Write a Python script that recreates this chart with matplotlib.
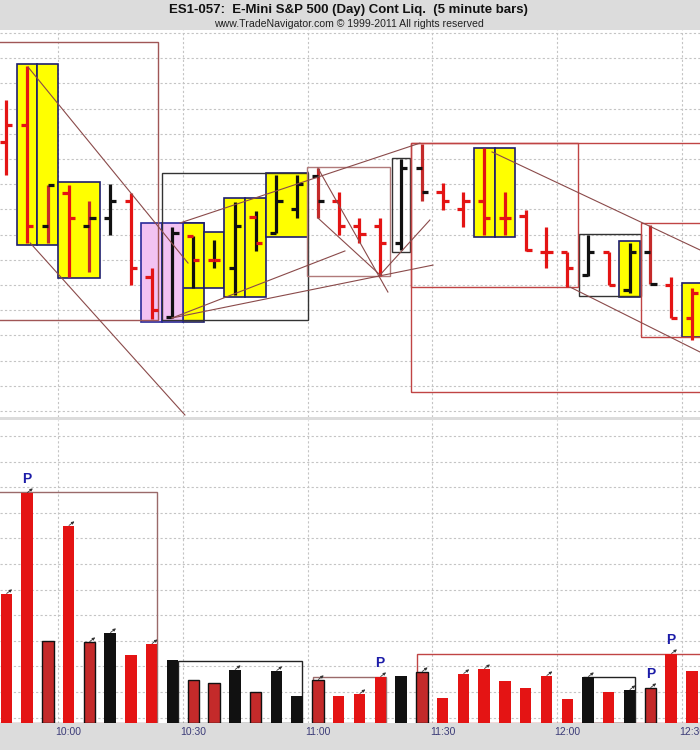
import pandas as pd
import matplotlib
matplotlib.use('Agg')
import matplotlib.pyplot as plt
from matplotlib.patches import Rectangle

plt.rcParams['font.family'] = ['Liberation Sans', 'DejaVu Sans']

# 5 minute bars, first visible bar 9:45
times = pd.date_range('2011-06-01 09:45', periods=34, freq='5min')

high = [1302.34, 1303.69, 1298.97, 1298.97, 1298.33, 1299.01, 1298.65, 1295.67, 1297.30, 1296.94,
        1296.79, 1298.29, 1297.94, 1299.37, 1299.37, 1299.64, 1298.69, 1297.66, 1297.66, 1300.00,
        1300.60, 1299.05, 1298.69, 1300.44, 1298.69, 1297.98, 1297.30, 1296.31, 1296.98, 1296.31,
        1296.67, 1297.38, 1295.32, 1294.88]
low = [1299.37, 1296.67, 1296.67, 1295.32, 1295.52, 1296.98, 1295.00, 1293.65, 1293.69, 1294.88,
       1295.67, 1294.60, 1296.35, 1297.06, 1297.66, 1297.66, 1296.98, 1296.67, 1295.36, 1296.39,
       1298.33, 1297.98, 1297.30, 1296.98, 1296.98, 1296.35, 1295.67, 1294.92, 1295.36, 1295.00,
       1294.68, 1295.04, 1293.69, 1292.82]
opens = [1300.67, 1301.35, 1297.34, 1298.65, 1297.34, 1297.66, 1298.33, 1295.32, 1293.73, 1296.94,
         1295.99, 1295.67, 1297.70, 1297.06, 1298.02, 1299.33, 1298.33, 1297.34, 1297.34, 1296.67,
         1299.64, 1298.69, 1298.02, 1298.33, 1297.66, 1297.74, 1296.31, 1296.31, 1295.40, 1296.31,
         1294.80, 1296.31, 1295.00, 1293.69]
close = [1301.35, 1297.34, 1298.97, 1297.66, 1297.66, 1298.33, 1295.67, 1294.01, 1297.06, 1295.99,
         1295.99, 1297.34, 1296.67, 1298.33, 1299.01, 1298.33, 1297.34, 1297.02, 1296.67, 1299.64,
         1298.69, 1298.33, 1298.33, 1297.66, 1297.66, 1296.39, 1296.31, 1295.67, 1296.31, 1295.00,
         1296.31, 1295.04, 1293.69, 1294.68]
# R red, K black, RK red bar black ticks, KR black bar red ticks
bar_kind = ['R', 'R', 'RK', 'R', 'RK', 'K', 'R', 'R', 'K', 'KR',
            'KR', 'K', 'KR', 'K', 'K', 'RK', 'R', 'R', 'R', 'K',
            'RK', 'R', 'R', 'R', 'R', 'R', 'R', 'R', 'K', 'R',
            'K', 'RK', 'R', 'R']

# volume in thousands
volume = [12.60, 22.46, 8.01, 19.24, 7.91, 8.79, 6.64, 7.71, 6.15, 4.20,
          3.91, 5.18, 3.03, 5.08, 2.64, 4.20, 2.64, 2.83, 4.49, 4.59,
          4.98, 2.44, 4.79, 5.27, 4.10, 3.42, 4.59, 2.34, 4.49, 3.03,
          3.22, 3.42, 6.74, 5.08]
vol_kind = ['R', 'R', 'RK', 'R', 'RK', 'K', 'R', 'R', 'K', 'RK',
            'RK', 'K', 'RK', 'K', 'K', 'RK', 'R', 'R', 'R', 'K',
            'RK', 'R', 'R', 'R', 'R', 'R', 'R', 'R', 'K', 'R',
            'K', 'RK', 'R', 'R']
p_bars = [1, 18, 31, 32]
arrow_bars = [0, 1, 3, 4, 5, 7, 11, 13, 15, 17, 18, 20, 22, 23, 26, 28, 30, 31, 32]

# pattern boxes: (first bar, last bar, low, high)
yellow_boxes = [(1, 1, 1296.59, 1303.77), (2, 2, 1296.59, 1303.77), (3, 4, 1295.28, 1299.09),
                (9, 9, 1293.53, 1297.46), (9, 9, 1294.88, 1297.46), (10, 10, 1294.88, 1297.10),
                (11, 11, 1294.52, 1298.45), (12, 12, 1294.52, 1298.45), (13, 14, 1296.90, 1299.44),
                (23, 23, 1296.90, 1300.44), (24, 24, 1296.90, 1300.44), (30, 30, 1294.52, 1296.75),
                (33, 33, 1292.94, 1295.08)]
pink_boxes = [(7, 7, 1293.53, 1297.46), (8, 8, 1293.53, 1297.46)]
black_boxes = [(7.5, 14.5, 1293.61, 1299.44), (18.57, 19.44, 1296.31, 1300.04), (27.57, 30.55, 1294.56, 1297.02)]
red_boxes = [(-1.0, 7.3, 1293.61, 1304.64, '#a05656'), (14.47, 18.47, 1295.36, 1299.68, '#b07a7a'),
             (19.48, 36.0, 1290.75, 1300.63, '#c04444'), (19.48, 27.52, 1294.92, 1300.63, '#c04444'),
             (30.55, 36.0, 1292.94, 1297.46, '#c04444')]
trend_lines = [((1.05, 1303.65), (8.75, 1295.87)), ((1.15, 1296.67), (8.6, 1289.84)),
               ((8.36, 1297.46), (19.91, 1300.63)), ((7.98, 1293.69), (16.30, 1296.35)),
               ((7.98, 1293.69), (20.54, 1295.79)), ((15.0, 1299.64), (18.37, 1294.72)),
               ((15.0, 1297.66), (17.99, 1295.40)), ((17.99, 1295.40), (20.39, 1297.58)),
               ((23.38, 1300.28), (33.39, 1296.39)), ((27.13, 1294.92), (33.39, 1292.34))]
# volume boxes: (left, right, top)
vol_boxes = [(-1.0, 7.26, 22.56, '#9a6a6a'), (8.27, 14.24, 6.05, '#222222'),
             (14.76, 18.28, 4.49, '#9a6a6a'), (19.77, 36.0, 6.74, '#c04444'),
             (27.76, 30.26, 4.49, '#222222')]

RED = '#e41414'
DARK_RED = '#c42a2a'
BLACK = '#111111'
line_col = {'R': RED, 'K': BLACK, 'RK': DARK_RED, 'KR': BLACK}
tick_col = {'R': RED, 'K': BLACK, 'RK': BLACK, 'KR': RED}
grid_kw = dict(color='#c4c4c4', lw=0.8, ls=(0, (2, 2)), zorder=0)

fig = plt.figure(figsize=(7, 7.5), dpi=100, facecolor='#dcdcdc')
ax = fig.add_axes([0, 1 - 417 / 750, 1, 387 / 750])
axv = fig.add_axes([0, 1 - 723 / 750, 1, 303 / 750])

xs = list(range(len(times)))
for a in (ax, axv):
    a.set_xlim(-0.30, 33.39)
    for s in a.spines.values():
        s.set_visible(False)
    a.tick_params(left=False, labelleft=False, bottom=False, labelbottom=False)
    for g in range(len(times)):
        if times[g].minute % 30 == 0:
            a.axvline(g - 0.5, **grid_kw)

# price panel
ax.set_ylim(1289.76, 1305.12)
for k in range(16):
    ax.axhline(1290 + k, **grid_kw)

for b in yellow_boxes:
    ax.add_patch(Rectangle((b[0] - 0.5, b[2]), b[1] - b[0] + 1, b[3] - b[2],
                           facecolor='#ffff00', edgecolor='#1e1e6e', lw=1.2, zorder=1))
for b in pink_boxes:
    ax.add_patch(Rectangle((b[0] - 0.5, b[2]), b[1] - b[0] + 1, b[3] - b[2],
                           facecolor='#f2c2f2', edgecolor='#2a2a9a', lw=1.2, zorder=1))
for b in black_boxes:
    ax.add_patch(Rectangle((b[0], b[2]), b[1] - b[0], b[3] - b[2],
                           fill=False, edgecolor='#333333', lw=1.0, zorder=2))
for b in red_boxes:
    ax.add_patch(Rectangle((b[0], b[2]), b[1] - b[0], b[3] - b[2],
                           fill=False, edgecolor=b[4], lw=1.0, zorder=2))

for i in xs:
    k = bar_kind[i]
    ax.vlines(i, low[i], high[i], color=line_col[k], lw=2.3, zorder=3, capstyle='butt')
    ax.hlines(opens[i], i - 0.3, i, color=tick_col[k], lw=2.3, zorder=3)
    ax.hlines(close[i], i, i + 0.3, color=tick_col[k], lw=2.3, zorder=3)

for p0, p1 in trend_lines:
    ax.plot([p0[0], p1[0]], [p0[1], p1[1]], color='#8a4a4a', lw=0.8, zorder=4)

# volume panel
axv.set_ylim(0, 29.59)
for k in range(12):
    axv.axhline(0.53 + 2.5 * k, **grid_kw)

for b in vol_boxes:
    axv.add_patch(Rectangle((b[0], 0), b[1] - b[0], b[2], fill=False,
                            edgecolor=b[3], lw=1.0, zorder=2))

for i in xs:
    k = vol_kind[i]
    if k == 'RK':
        axv.bar(i, volume[i], width=0.55, color=DARK_RED, edgecolor=BLACK, lw=1.0, zorder=3)
    else:
        axv.bar(i, volume[i], width=0.55, color=RED if k == 'R' else BLACK, lw=0, zorder=3)

for i in arrow_bars:
    axv.annotate('', xy=(i + 0.28, volume[i] + 0.45), xytext=(i + 0.02, volume[i] + 0.05),
                 arrowprops=dict(arrowstyle='-|>', lw=0.6, color='#333333', mutation_scale=4,
                                 shrinkA=0, shrinkB=0), zorder=4)

for i in p_bars:
    axv.annotate('P', (i, volume[i]), xytext=(0, 5), textcoords='offset points',
                 ha='center', va='bottom', fontsize=10, fontweight='bold', color='#1c1ca8', zorder=5)

axv.tick_params(labelbottom=True, length=0, pad=3, labelsize=7.5, labelcolor='#3c3c78')
lbl = [g for g in xs if times[g].minute % 30 == 0]
axv.set_xticks(lbl)
axv.set_xticklabels([times[g].strftime('%H:%M') for g in lbl])

fig.text(0.498, 1 - 10 / 750, 'ES1-057:  E-Mini S&P 500 (Day) Cont Liq.  (5 minute bars)',
         ha='center', va='center', fontsize=9.5, fontweight='bold', color='#111111')
fig.text(0.498, 1 - 24 / 750, 'www.TradeNavigator.com \u00a9 1999-2011 All rights reserved',
         ha='center', va='center', fontsize=7.6, color='#222222')

fig.savefig('out.png', dpi=100, facecolor=fig.get_facecolor())
